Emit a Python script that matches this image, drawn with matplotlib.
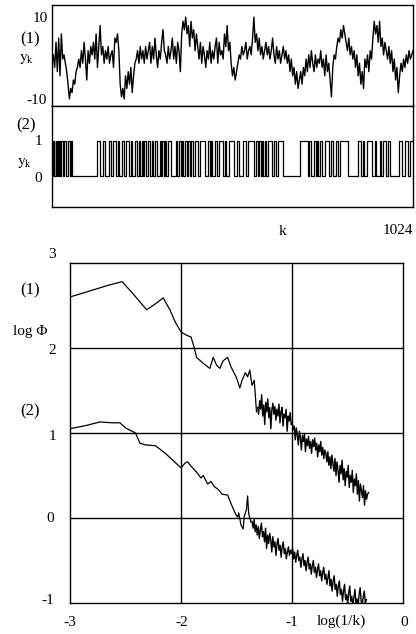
import numpy as np
import matplotlib
matplotlib.use("Agg")
import matplotlib.pyplot as plt

plt.rcParams['font.family'] = ['Liberation Serif', 'DejaVu Serif']
plt.rcParams['mathtext.fontset'] = 'stix'

# (1) time series y_k (evenly spaced over k = 0..1024)
yk_signal = [
    -1, 1, -2, 4, -3, 5, -4, 6, 0, 1,
    -1, -3, -6, -9.5, -7, -8, -5, -6, -3, -2,
    0, -2, 2, -1, 4, 0, -5, 2, -1, 3,
    1, 4, 0, 6, -2, 3, 8, 1, 3, -1,
    2, 0, 3, -1, 1, 2, -2, 5, 4, 6,
    2, -6, -9, -7, -9.5, -4, -7, -3, -6, -2,
    -8, -4, -1, 0, 2, -1, 3, 0, 2, -1,
    3, 0, 2, 4, -1, 3, 0, 5, 1, -2,
    2, 0, 4, 7, 2, 1, -1, 3, 0, 2,
    5, 0, 3, -1, 4, 2, -3, 6, 9, 7,
    10, 6, 8, 3, 9, 5, 7, 2, 6, 3,
    0, 4, -1, 3, 1, -2, 2, 0, 4, -1,
    2, 0, 3, 5, -1, 4, 1, 2, 0, 6,
    3, 8, 2, 4, -1, -4, -2, -5, -3, -1,
    1, 0, 3, 1, 2, 4, 0, 2, 3, 1,
    5, 10, 4, 6, 2, 5, 1, 3, 0, 2,
    4, 1, 3, 0, 2, 5, 1, -1, 3, 0,
    2, -1, 1, 3, 0, 2, -1, 1, -3, 0,
    -4, -2, -6, -3, -7, -5, -3, -6, -2, -4,
    0, -3, 1, -2, 2, -1, -3, 1, -2, 0,
    -1, 2, -2, 0, -4, 1, -3, -1, -5, -9,
    -2, 1, 0, 3, 5, 4, 7, 5, 8, 6,
    4, 2, 5, 1, 3, 0, 2, -2, 1, -4,
    -1, -6, -3, -7, 0, -2, 1, -3, 2, 0,
    5, 9, 6, 8, 4, 9, 3, 5, 1, 4,
    2, 0, 3, -1, 2, -3, 0, -5, -2, -8,
    -4, -1, -3, 0, -2, 1, -1, 2, 0, 1, 2,
]

# (2) binary series: run lengths (samples), alternating 1 / 0, starting at 1
binary_runs = [
    3, 2, 2, 3, 2, 2, 3, 2, 3, 3,
    6, 4, 6, 3, 6, 3, 5,
    69,
    9, 8, 6, 11, 5, 8, 7, 6, 4, 7,
    6, 5, 8, 6, 4, 9, 6, 4, 3, 5,
    5, 3, 4, 6, 7, 4, 3, 5, 6, 8,
    4, 3, 5, 4, 3, 6, 7, 14, 4, 5,
    6, 4, 3, 5, 4, 3, 6, 4, 5, 7,
    7, 6, 13, 9, 5, 4, 3, 8, 6, 5,
    11, 6, 4, 7, 15, 9, 6, 12, 8, 5,
    18, 6, 4, 3, 5, 4, 3, 5, 4, 6,
    10, 5, 6, 7, 14,
    47,
    22, 5, 4, 8, 6, 4, 3, 6, 5, 7,
    12, 6, 5, 9, 7, 4, 24,
    29,
    8, 5, 4, 7, 16, 6, 5, 9, 4, 5,
    10, 4, 7,
    26,
    9, 6, 10, 5, 9,
]

# spectrum (1): smooth low-frequency part
spec1_x = [-3.0, -2.8, -2.65, -2.53, -2.42, -2.31, -2.23, -2.16, -2.10, -2.05,
           -2.0, -1.95, -1.91, -1.88, -1.86, -1.80, -1.74, -1.71, -1.68, -1.65,
           -1.62, -1.58, -1.55, -1.50, -1.47, -1.45, -1.42, -1.40, -1.38, -1.36,
           -1.34, -1.32]
spec1_y = [2.60, 2.68, 2.74, 2.78, 2.62, 2.45, 2.52, 2.59, 2.45, 2.30,
           2.19, 2.15, 2.13, 2.00, 1.89, 1.82, 1.76, 1.89, 1.80, 1.76,
           1.85, 1.89, 1.78, 1.65, 1.53, 1.62, 1.71, 1.66, 1.74, 1.56,
           1.62, 1.25]
# spectrum (1): dense high-frequency part, log(1/k) from -1.31 to -0.31
spec1_tail = [
    1.30, 1.22, 1.38, 1.28, 1.45, 1.20, 1.33, 1.10, 1.36, 1.25, 1.40, 1.18,
    1.30, 1.05, 1.27, 1.35, 1.22, 1.31, 1.15, 1.28, 1.20, 1.34, 1.12, 1.25,
    1.30, 1.08, 1.22, 1.18, 1.28, 1.02, 1.20, 1.14, 1.24, 1.10,
    1.12, 1.04, 1.08, 0.92, 1.06, 0.98, 0.86, 1.02, 0.95, 0.80, 0.97, 0.90,
    0.99, 0.78, 0.93, 0.85, 0.96, 0.82, 0.90, 0.76, 0.92, 0.84, 0.94, 0.80,
    0.88, 0.72, 0.86, 0.78, 0.90, 0.74, 0.83, 0.70, 0.80,
    0.76, 0.66, 0.78, 0.62, 0.72, 0.58, 0.74, 0.64, 0.55, 0.70, 0.50, 0.66,
    0.56, 0.42, 0.62, 0.52, 0.68, 0.45, 0.58, 0.38, 0.55, 0.48, 0.62, 0.36,
    0.50, 0.42, 0.56, 0.30, 0.46, 0.38, 0.52, 0.28, 0.44, 0.20, 0.40, 0.32,
    0.24, 0.38, 0.15, 0.32, 0.22, 0.28, 0.30,
]

# spectrum (2)
spec2_x = [-3.0, -2.85, -2.73, -2.62, -2.55, -2.50, -2.41, -2.37, -2.32, -2.23,
           -2.14, -2.05, -2.0, -1.96, -1.94, -1.91, -1.86, -1.82, -1.80, -1.76,
           -1.73, -1.70, -1.66, -1.63, -1.58, -1.54, -1.51, -1.49, -1.48, -1.46,
           -1.44, -1.43, -1.41, -1.40, -1.39, -1.37]
spec2_y = [1.05, 1.09, 1.13, 1.12, 1.12, 1.06, 1.00, 0.88, 0.86, 0.85,
           0.76, 0.65, 0.59, 0.65, 0.66, 0.61, 0.54, 0.47, 0.50, 0.40,
           0.43, 0.37, 0.33, 0.28, 0.27, 0.14, 0.05, 0.01, 0.06, -0.08,
           -0.13, 0.02, 0.10, 0.26, 0.05, -0.05]
spec2_tail = [
    -0.04, -0.12, -0.02, -0.16, -0.08, -0.20, -0.10, -0.24, -0.14, -0.06,
    -0.22, -0.16, -0.28, -0.12, -0.36, -0.20, -0.30, -0.18, -0.26, -0.40,
    -0.22, -0.34, -0.28, -0.44, -0.30, -0.24, -0.38, -0.32, -0.46, -0.34,
    -0.28, -0.42, -0.36, -0.48, -0.40, -0.34, -0.44, -0.38,
    -0.42, -0.36, -0.48, -0.40, -0.52, -0.44, -0.38, -0.50, -0.46, -0.58,
    -0.48, -0.42, -0.56, -0.50, -0.62, -0.52, -0.46, -0.60, -0.54, -0.66,
    -0.56, -0.50, -0.64, -0.58, -0.70, -0.60, -0.54, -0.68, -0.62, -0.74,
    -0.64, -0.58, -0.72,
    -0.66, -0.78, -0.70, -0.62, -0.80, -0.72, -0.86, -0.74, -0.68, -0.84,
    -0.78, -0.92, -0.80, -0.74, -0.90, -0.84, -0.98, -0.86, -0.78, -0.96,
    -0.90, -1.02, -0.88, -0.80, -0.98, -0.92, -1.04, -0.94, -0.84, -1.00,
    -0.95, -1.05, -0.90, -0.82, -0.98, -1.02, -0.92, -0.86, -1.00, -0.96,
]

W, H = 416, 634
fig = plt.figure(figsize=(W / 100, H / 100), dpi=100)

def px_axes(x0, y0, x1, y1):
    return fig.add_axes([x0 / W, 1 - y1 / H, (x1 - x0) / W, (y1 - y0) / H])

def ftext(x, y, s, **kw):
    kw.setdefault('fontsize', 11)
    kw.setdefault('ha', 'center')
    kw.setdefault('va', 'center')
    fig.text(x / W, 1 - y / H, s, **kw)

# --- top: time series (1)
ax1 = px_axes(52, 5, 413, 106)
k1 = np.linspace(0, 1024, len(yk_signal))
ax1.plot(k1, yk_signal, color='black', lw=1.0)
ax1.set_xlim(0, 1024)
ax1.set_ylim(-11.2, 12.9)

# --- binary series (2)
ax2 = px_axes(52, 106, 413, 207)
states = np.arange(len(binary_runs)) % 2 == 0
edges = np.concatenate([[0], np.cumsum(binary_runs)])
vals = np.append(states.astype(float), float(states[-1]))
ax2.step(edges, vals, where='post', color='black', lw=0.9)
ax2.set_xlim(0, 1024)
ax2.set_ylim(-0.89, 2.0)

for ax in (ax1, ax2):
    ax.set_xticks([])
    ax.set_yticks([])
    for s in ax.spines.values():
        s.set_linewidth(1.0)

ftext(40, 18, '10')
ftext(37, 101, '-10')
ftext(30, 39, '(1)', fontsize=12)
ftext(27, 59, r'$\mathrm{y_k}$', fontsize=11)
ftext(26, 125, '(2)', fontsize=12)
ftext(38, 142, '1')
ftext(25, 163, r'$\mathrm{y_k}$', fontsize=11)
ftext(38, 178, '0')
ftext(283, 232, 'k')
ftext(398, 231, '1024')

# --- bottom: spectra
ax3 = px_axes(70, 263, 403, 603)
ax3.plot(spec1_x, spec1_y, color='black', lw=0.9)
ax3.plot(np.linspace(-1.31, -0.31, len(spec1_tail)), spec1_tail,
         color='black', lw=1.0)
ax3.plot(spec2_x, spec2_y, color='black', lw=0.9)
ax3.plot(np.linspace(-1.36, -0.33, len(spec2_tail)), spec2_tail,
         color='black', lw=1.0)
ax3.set_xlim(-3, 0)
ax3.set_ylim(-1, 3)
for gx in (-2, -1):
    ax3.axvline(gx, color='black', lw=1.0)
for gy in (0, 1, 2):
    ax3.axhline(gy, color='black', lw=1.0)
ax3.set_xticks([])
ax3.set_yticks([])
for s in ax3.spines.values():
    s.set_linewidth(1.0)

ftext(52, 255, '3')
ftext(52, 350, '2')
ftext(52, 437, '1')
ftext(50, 519, '0')
ftext(48, 601, '-1')
ftext(70, 622, '-3')
ftext(182, 622, '-2')
ftext(292, 622, '-1')
ftext(341, 621, 'log(1/k)')
ftext(404, 622, '0')
ftext(30, 290, '(1)', fontsize=12)
ftext(30, 331, 'log Φ', fontsize=11)
ftext(30, 411, '(2)', fontsize=12)

fig.savefig('out.png', dpi=100)
